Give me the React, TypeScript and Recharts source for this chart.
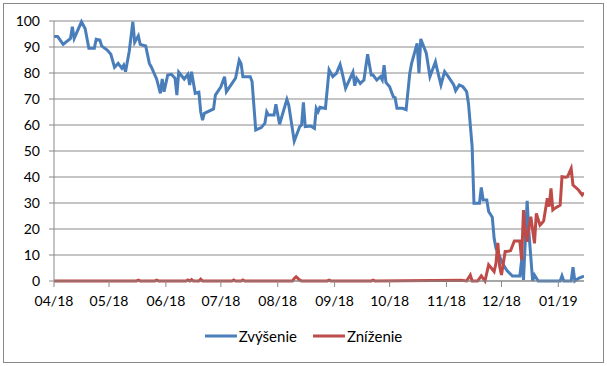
import React from 'react';
import { LineChart, Line, XAxis, YAxis, CartesianGrid, Legend } from 'recharts';

// Day offsets are counted from 2018-04-01
const monthTickDays = [0, 30, 61, 91, 122, 153, 183, 214, 244, 275];
const monthTickLabels = ['04/18', '05/18', '06/18', '07/18', '08/18', '09/18', '10/18', '11/18', '12/18', '01/19'];
const yTicks = [0, 10, 20, 30, 40, 50, 60, 70, 80, 90, 100];

const zvysenieDays = [0,2,5,9,10,11,15,17,19,22,23,25,26,29,31,33,35,37,38,39,41,43,44,46,47,50,52,53,56,58,59,60,62,64,66,67,68,71,73,74,75,77,79,80,81,82,87,88,91,93,94,99,101,102,103,107,108,110,113,115,116,117,120,121,123,127,128,131,134,135,136,137,140,142,143,144,145,148,150,152,154,156,157,159,163,164,165,167,169,171,173,174,176,178,179,180,181,183,184,185,186,187,190,192,194,195,198,199,200,203,205,208,209,211,213,215,218,219,221,223,225,226,228,229,232,233,234,236,237,239,240,241,245,247,250,254,255,256,258,259,261,262,264,276,277,278,282,283,284,286,289];
const zvysenieValues = [94,94,91,93.3,97.8,93.3,99.7,97,89.5,89.5,93,92.7,90.4,88.8,87.2,82.2,83.7,81.8,83,80.5,88.2,99.7,91.8,94.3,91,90.4,83.7,82.4,77.6,72.2,77.7,72.8,79.2,79.5,78,71.5,80.3,77.7,79.5,75.4,80.5,72.2,72.6,65.1,61.9,64.5,66.2,71.5,74.7,78.6,72.8,78,85,83.7,78.6,78.6,76.7,58.1,59,60.7,65.1,63.8,63.8,68,60.3,69.9,67.7,53.8,59.4,60,68.7,59.4,59.6,58.7,66.4,65.1,66.8,66.4,81.2,78.6,79.9,83.3,80.5,74.1,80.3,75.1,78,76,77.3,87.2,79.2,79.2,77.3,78.6,77.3,83,76.4,74.7,72.8,70.9,70.5,66.4,66.4,65.9,79.9,83.7,91.4,79.9,93.1,87.6,78.6,84.3,81.2,75.4,80.5,78.6,75.4,73.2,75.4,74.7,72.8,68.3,51.7,29.9,29.9,36,31.2,31.2,26.7,24.5,16.4,12.6,6.2,4,1.9,1.9,8,0.4,30.8,18.3,0,2.3,0,0,2,0,0,5.3,0,1,1.9];

const znizenieDays = [0,45,46,47,55,56,57,72,73,74,75,76,79,80,81,97,98,99,102,103,104,130,131,132,133,134,135,149,150,151,173,174,175,222,225,227,228,231,233,235,237,239,240,241,242,243,244,246,247,249,251,254,255,256,257,258,259,260,262,263,265,266,267,269,270,271,272,273,276,277,279,280,282,283,286,288,289];
const znizenieValues = [0,0,0.3,0,0,0.3,0,0,0.4,0,0.5,0,0,0.7,0,0,0.4,0,0,0.4,0,0,1,1.6,1,0.3,0,0,0.3,0,0,0.3,0,0.3,0,2.3,0,0,2,0,6.2,4.5,3.6,6.8,14.7,5.7,2.3,11.3,11.3,11.7,15.4,15.4,8,27.3,18.3,15.1,20.9,24.7,14.5,26,21.5,22.2,23.1,31.8,28.6,35.6,27.3,27.9,29.2,40.1,39.9,40.1,43.3,36.9,35,33.1,34];

const seriesNames = ['Zvýšenie', 'Zníženie'];
const seriesColors = ['#4A7EBB', '#BE4B48'];

const zvysenieData = zvysenieDays.map((d, i) => ({ d, v: zvysenieValues[i] }));
const znizenieData = znizenieDays.map((d, i) => ({ d, v: znizenieValues[i] }));

const FONT = 'Lato, "DejaVu Sans", sans-serif';
const GRAY = '#898989';

const LegendContent = () => (
  <div style={{ display: 'flex', justifyContent: 'center', alignItems: 'center', height: 20, fontFamily: FONT, fontSize: 15, color: '#000' }}>
    {seriesNames.map((n, i) => (
      <div key={n} style={{ display: 'flex', alignItems: 'center', marginRight: i === 0 ? 16 : 0 }}>
        <svg width={32} height={4} style={{ display: 'block' }}>
          <line x1={0} y1={2} x2={32} y2={2} stroke={seriesColors[i]} strokeWidth={3} />
        </svg>
        <span style={{ marginLeft: 2 }}>{n}</span>
      </div>
    ))}
  </div>
);

export default function App() {
  return (
    <div style={{ position: 'absolute', left: 0, top: 0, width: 607, height: 366, background: '#fff' }}>
      <div style={{ position: 'absolute', left: 3, top: 3, width: 599, height: 358, border: `1px solid ${GRAY}` }} />
      <div style={{ position: 'absolute', left: 0, top: 0 }}>
        <LineChart width={607} height={366} margin={{ top: 21, right: 23, left: 0, bottom: 20 }}>
          <CartesianGrid vertical={false} stroke={GRAY} strokeWidth={1} />
          <XAxis
            type="number"
            dataKey="d"
            domain={[0, 289]}
            ticks={monthTickDays}
            interval={0}
            allowDataOverflow
            tickFormatter={(v: number) => monthTickLabels[monthTickDays.indexOf(v)] ?? ''}
            height={45}
            tickSize={6}
            tickMargin={9}
            stroke={GRAY}
            tick={{ fill: '#000', fontSize: 14, fontFamily: FONT }}
          />
          <YAxis
            type="number"
            domain={[0, 100]}
            ticks={yTicks}
            interval={0}
            width={54}
            tickSize={5}
            tickMargin={9}
            stroke={GRAY}
            tick={{ fill: '#000', fontSize: 14, fontFamily: FONT }}
          />
          <Legend verticalAlign="bottom" content={<LegendContent />} wrapperStyle={{ left: 0, width: 607 }} />
          <Line data={zvysenieData} dataKey="v" name={seriesNames[0]} stroke={seriesColors[0]} strokeWidth={3} dot={false} isAnimationActive={false} type="linear" />
          <Line data={znizenieData} dataKey="v" name={seriesNames[1]} stroke={seriesColors[1]} strokeWidth={3} dot={false} isAnimationActive={false} type="linear" />
        </LineChart>
      </div>
    </div>
  );
}
